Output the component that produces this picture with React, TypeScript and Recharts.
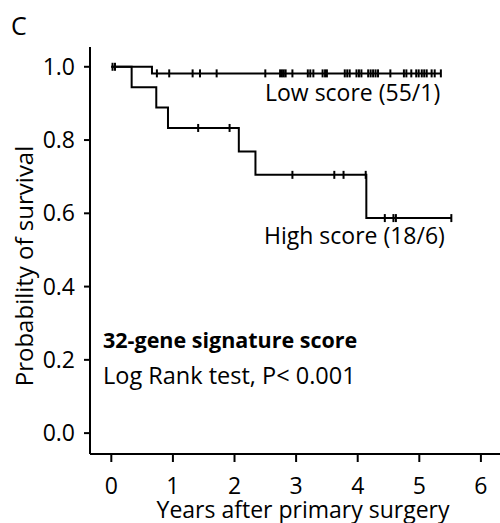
import React from 'react';
import { ComposedChart, Line, Scatter, XAxis, YAxis } from 'recharts';

// Kaplan-Meier step points (time in years, survival probability)
const lowSteps = [
  { t: 0, s: 1 },
  { t: 0.66, s: 0.982 },
  { t: 5.35, s: 0.982 },
];
const highSteps = [
  { t: 0, s: 1 },
  { t: 0.33, s: 0.944 },
  { t: 0.73, s: 0.889 },
  { t: 0.92, s: 0.833 },
  { t: 2.07, s: 0.769 },
  { t: 2.34, s: 0.705 },
  { t: 4.14, s: 0.587 },
  { t: 5.52, s: 0.587 },
];
// censoring times
const lowCensor = [
  0.02, 0.06, 0.74, 0.94, 1.32, 1.44, 1.71, 2.5, 2.74, 2.77, 2.8, 2.83, 2.94,
  3.19, 3.23, 3.28, 3.43, 3.47, 3.5, 3.79, 3.83, 3.87, 3.98, 4.02, 4.06, 4.17,
  4.21, 4.25, 4.29, 4.33, 4.53, 4.75, 4.79, 4.87, 4.95, 4.99, 5.04, 5.08, 5.12,
  5.2, 5.25, 5.35,
];
const highCensor = [1.41, 1.92, 2.94, 3.62, 3.77, 4.13, 4.44, 4.58, 4.62, 5.52];

const xTicks = [0, 1, 2, 3, 4, 5, 6];
const yTicks = [0, 0.2, 0.4, 0.6, 0.8, 1.0];

const FONT = '"Open Sans", sans-serif';

const levelAt = (steps: { t: number; s: number }[], t: number) => {
  let s = steps[0].s;
  for (const p of steps) if (p.t <= t) s = p.s;
  return s;
};

const lowCensorPts = lowCensor.map((t) => ({ t, s: levelAt(lowSteps, t) }));
const highCensorPts = highCensor.map((t) => ({ t, s: levelAt(highSteps, t) }));

const CensorMark = (props: any) => {
  const { cx, cy } = props;
  if (cx == null || cy == null) return null;
  return <line x1={cx} x2={cx} y1={cy - 4} y2={cy + 4} stroke="#000" strokeWidth={2} />;
};

export default function App() {
  return (
    <div style={{ position: 'absolute', left: 0, top: 0, width: 500, height: 523, background: '#fff' }}>
      <ComposedChart width={500} height={523} margin={{ top: 47, right: 0, bottom: 0, left: 0 }}>
        <XAxis
          type="number"
          dataKey="t"
          domain={[-0.346, 6.31]}
          ticks={xTicks}
          allowDataOverflow
          height={69}
          axisLine={{ stroke: '#000', strokeWidth: 2 }}
          tickLine={{ stroke: '#000', strokeWidth: 2 }}
          tickSize={8}
          tickMargin={16}
          tick={{ fill: '#000', fontSize: 23, fontFamily: FONT }}
        />
        <YAxis
          type="number"
          dataKey="s"
          domain={[-0.057, 1.054]}
          ticks={yTicks}
          allowDataOverflow
          width={90}
          axisLine={{ stroke: '#000', strokeWidth: 2 }}
          tickLine={{ stroke: '#000', strokeWidth: 2 }}
          tickSize={6}
          tickMargin={9}
          tickFormatter={(v: number) => v.toFixed(1)}
          tick={{ fill: '#000', fontSize: 23, fontFamily: FONT }}
        />
        <Line data={lowSteps} dataKey="s" type="stepAfter" stroke="#000" strokeWidth={2} dot={false} isAnimationActive={false} />
        <Line data={highSteps} dataKey="s" type="stepAfter" stroke="#000" strokeWidth={2} dot={false} isAnimationActive={false} />
        <Scatter data={lowCensorPts} dataKey="s" shape={CensorMark} isAnimationActive={false} />
        <Scatter data={highCensorPts} dataKey="s" shape={CensorMark} isAnimationActive={false} />
        <text x={11} y={35} fontSize={25} fontFamily={FONT} fill="#000">C</text>
        <text x={265} y={101} fontSize={23} fontFamily={FONT} fill="#000">Low score (55/1)</text>
        <text x={264} y={244} fontSize={23} fontFamily={FONT} fill="#000">High score (18/6)</text>
        <text x={103} y={348} fontSize={21.5} fontWeight="bold" fontFamily={FONT} fill="#000">32-gene signature score</text>
        <text x={103} y={384} fontSize={23.5} fontFamily={FONT} fill="#000">Log Rank test, P&lt; 0.001</text>
        <text x={303} y={518} fontSize={23} textAnchor="middle" fontFamily={FONT} fill="#000">Years after primary surgery</text>
        <text x={33} y={266} fontSize={24} textAnchor="middle" fontFamily={FONT} fill="#000" transform="rotate(-90 33 266)">Probability of survival</text>
      </ComposedChart>
    </div>
  );
}
